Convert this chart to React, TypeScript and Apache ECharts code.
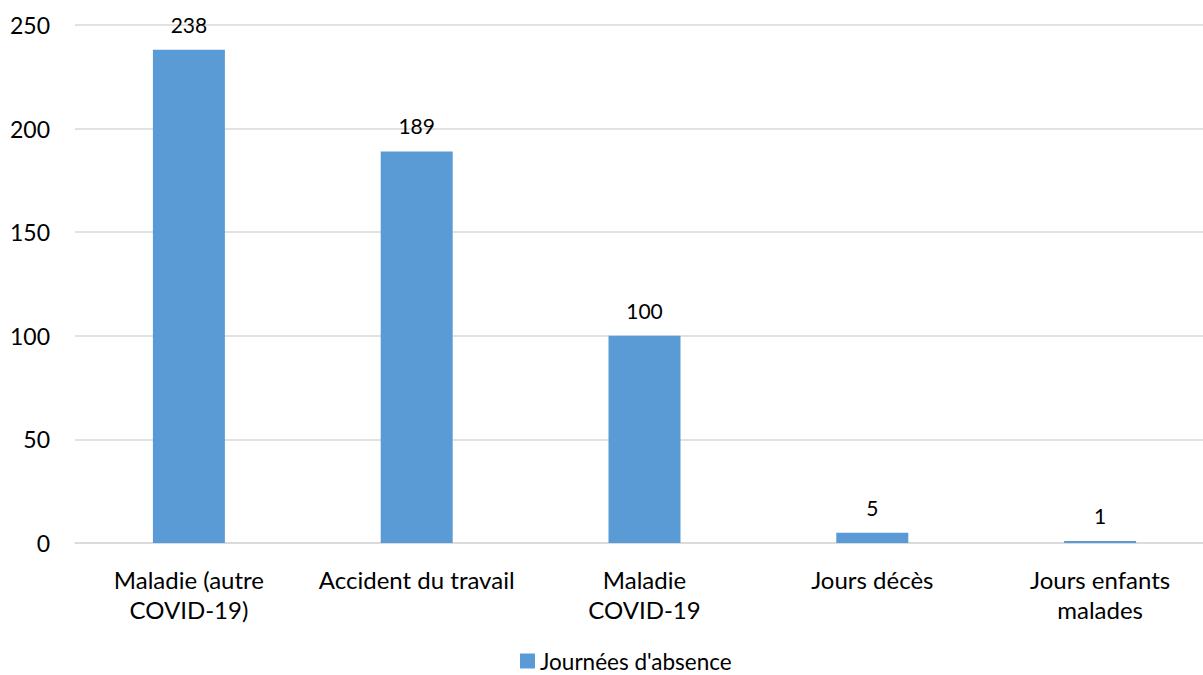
import React, { useEffect, useRef } from "react";
import * as echarts from "echarts";

const categories = [
  "Maladie (autre\nCOVID-19)",
  "Accident du travail",
  "Maladie\nCOVID-19",
  "Jours décès",
  "Jours enfants\nmalades",
];
const values = [238, 189, 100, 5, 1];
const seriesName = "Journées d'absence";
const yTicks = { min: 0, max: 250, interval: 50 };

const FONT = "Lato";

export default function App() {
  const ref = useRef<HTMLDivElement>(null);
  useEffect(() => {
    if (!ref.current) return;
    const chart = echarts.init(ref.current, undefined, { renderer: "svg" });
    chart.setOption({
      animation: false,
      backgroundColor: "#ffffff",
      textStyle: { fontFamily: FONT },
      grid: { left: 75, top: 25, bottom: 132, right: 0, containLabel: false },
      legend: {
        data: [seriesName],
        top: 649,
        left: 520,
        padding: 0,
        icon: "rect",
        itemWidth: 15,
        itemHeight: 15,
        itemGap: 5,
        textStyle: {
          fontFamily: FONT,
          fontSize: 22.5,
          lineHeight: 24,
          color: "#000",
        },
      },
      xAxis: {
        type: "category",
        data: categories,
        axisLine: { show: true, lineStyle: { color: "#d9d9d9", width: 1.5 } },
        axisTick: { show: false },
        axisLabel: {
          fontFamily: FONT,
          fontSize: 24,
          color: "#000",
          lineHeight: 30,
          margin: 21,
          interval: 0,
        },
      },
      yAxis: {
        type: "value",
        min: yTicks.min,
        max: yTicks.max,
        interval: yTicks.interval,
        axisLine: { show: false },
        axisTick: { show: false },
        splitLine: { lineStyle: { color: "#d9d9d9", width: 1.5 } },
        axisLabel: { fontFamily: FONT, fontSize: 23, color: "#000", margin: 25 },
      },
      series: [
        {
          name: seriesName,
          type: "bar",
          data: values,
          barWidth: 72,
          itemStyle: { color: "#5b9bd5" },
          label: {
            show: true,
            position: "top",
            distance: 15,
            fontFamily: FONT,
            fontSize: 21,
            color: "#000",
          },
        },
      ],
    });
    return () => chart.dispose();
  }, []);
  return (
    <div
      style={{
        position: "fixed",
        left: 0,
        top: 0,
        width: 1203,
        height: 675,
        overflow: "hidden",
        background: "#fff",
      }}
    >
      <div ref={ref} style={{ width: 1214, height: 675 }} />
    </div>
  );
}
